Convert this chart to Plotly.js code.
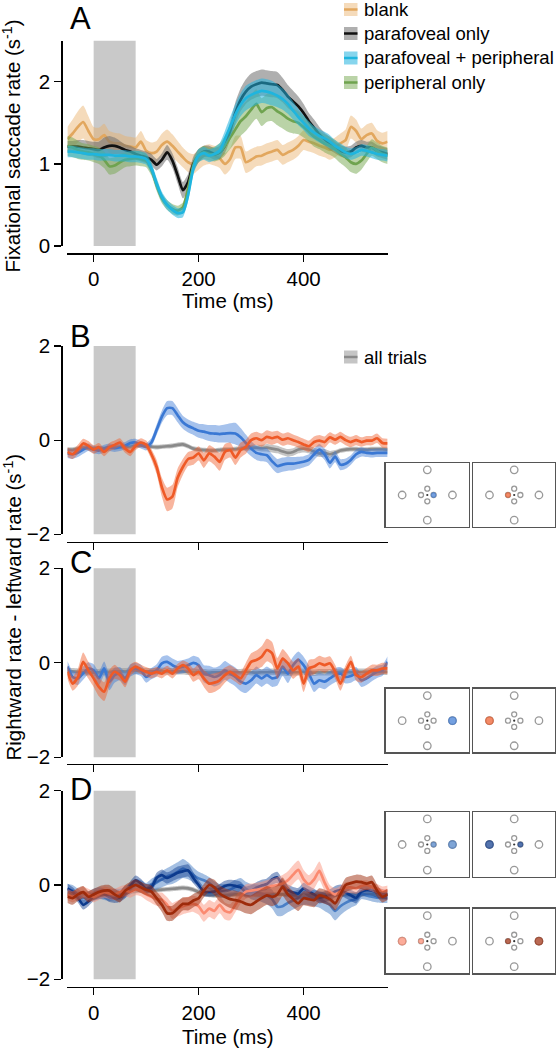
<!DOCTYPE html>
<html>
<head>
<meta charset="utf-8">
<script src="https://cdn.plot.ly/plotly-3.0.1.min.js"></script>
<style>html,body{margin:0;padding:0;background:#fff;}#chart{width:556px;height:1050px;}</style>
</head>
<body>
<div id="chart"></div>
<script>
// ---------------- DATA ----------------
const T = [-50,-40,-30,-20,-10,0,10,20,30,40,
           50,60,70,80,90,100,110,120,130,140,
           150,160,170,180,190,200,210,220,230,240,
           250,260,270,280,290,300,310,320,330,340,
           350,360,370,380,390,400,410,420,430,440,
           450,460,470,480,490,500,510,520,530,540,
           550,560];
const STIM_WINDOW = [0, 80];
const X_TICKS = [0, 200, 400];
const YA_TICKS = [0, 1, 2];
const YB_TICKS = [-2, 0, 2];

// Panel A
const blankMean = [1.30,1.37,1.45,1.51,1.40,1.30,1.30,1.35,1.27,1.25,
                   1.25,1.22,1.21,1.20,1.27,1.16,1.13,1.15,1.23,1.27,
                   1.22,1.15,1.08,1.02,1.00,1.05,1.10,1.12,1.10,1.07,
                   1.00,1.06,1.20,1.20,1.02,1.05,1.09,1.10,1.13,1.15,
                   1.17,1.11,1.14,1.17,1.22,1.29,1.27,1.25,1.22,1.20,
                   1.17,1.20,1.25,1.29,1.45,1.40,1.30,1.35,1.37,1.28,
                   1.25,1.27];
const blankErr = [.15,.17,.19,.20,.18,.15,.14,.14,.13,.13,
                  .12,.12,.12,.12,.13,.13,.13,.13,.14,.15,
                  .14,.13,.12,.12,.12,.12,.12,.12,.12,.12,
                  .13,.13,.14,.14,.13,.13,.12,.12,.12,.12,
                  .12,.12,.12,.12,.12,.12,.12,.12,.12,.12,
                  .12,.12,.12,.13,.14,.14,.13,.13,.13,.13,
                  .13,.13];
const paraMean = [1.21,1.21,1.21,1.20,1.19,1.18,1.17,1.20,1.22,1.22,
                  1.20,1.17,1.15,1.12,1.10,1.08,1.05,0.99,1.05,1.14,
                  1.04,0.86,0.68,0.78,1.00,1.10,1.15,1.15,1.12,1.14,
                  1.22,1.40,1.62,1.78,1.88,1.94,1.97,1.99,1.98,1.97,
                  1.96,1.90,1.82,1.76,1.70,1.62,1.52,1.44,1.36,1.30,
                  1.25,1.20,1.16,1.14,1.15,1.20,1.22,1.20,1.20,1.16,
                  1.14,1.12];
const paraErr = [.07,.07,.08,.09,.09,.09,.10,.12,.12,.10,
                 .08,.07,.07,.07,.07,.07,.07,.07,.08,.09,
                 .09,.10,.10,.10,.09,.08,.07,.07,.07,.08,
                 .09,.11,.13,.14,.15,.16,.16,.16,.16,.16,
                 .16,.15,.14,.13,.12,.11,.10,.10,.09,.08,
                 .08,.07,.07,.07,.07,.07,.07,.07,.07,.07,
                 .07,.07];
const bothMean = [1.15,1.15,1.14,1.13,1.12,1.12,1.11,1.11,1.11,1.10,
                  1.10,1.10,1.09,1.09,1.08,1.06,0.95,0.76,0.60,0.50,
                  0.44,0.40,0.41,0.62,0.95,1.10,1.13,1.10,1.12,1.16,
                  1.30,1.45,1.60,1.72,1.80,1.84,1.87,1.89,1.88,1.86,
                  1.83,1.79,1.73,1.65,1.57,1.50,1.43,1.38,1.34,1.31,
                  1.27,1.22,1.18,1.14,1.12,1.14,1.17,1.16,1.14,1.12,
                  1.11,1.10];
const bothErr = [.07,.07,.07,.07,.07,.07,.07,.07,.07,.07,
                 .07,.07,.07,.07,.07,.07,.07,.07,.06,.06,
                 .06,.06,.06,.07,.08,.08,.08,.08,.08,.09,
                 .10,.12,.13,.14,.15,.15,.15,.15,.15,.15,
                 .14,.13,.12,.11,.10,.09,.09,.08,.08,.08,
                 .08,.07,.07,.07,.07,.07,.07,.07,.07,.07,
                 .07,.07];
const periMean = [1.22,1.20,1.17,1.15,1.14,1.12,1.10,1.05,0.97,0.98,
                  1.02,1.05,1.06,1.07,1.06,1.04,0.93,0.74,0.58,0.50,
                  0.45,0.43,0.47,0.70,0.98,1.10,1.14,1.12,1.12,1.15,
                  1.22,1.32,1.42,1.52,1.58,1.66,1.73,1.63,1.68,1.69,
                  1.64,1.60,1.55,1.52,1.50,1.45,1.39,1.33,1.29,1.25,
                  1.22,1.18,1.12,1.08,1.02,1.00,1.04,1.12,1.20,1.16,
                  1.12,1.10];
const periErr = [.12,.12,.11,.10,.10,.10,.10,.10,.10,.10,
                 .10,.09,.09,.09,.09,.08,.07,.07,.06,.06,
                 .06,.06,.06,.07,.08,.08,.08,.08,.09,.10,
                 .12,.14,.16,.18,.18,.18,.18,.17,.17,.17,
                 .17,.17,.16,.15,.14,.13,.12,.12,.11,.11,
                 .11,.11,.11,.12,.12,.12,.11,.10,.10,.10,
                 .10,.10];

// Panel B
const bRightMean = [-0.28,-0.30,-0.27,-0.20,-0.15,-0.20,-0.22,-0.18,-0.15,-0.17,
                    -0.15,-0.12,-0.06,-0.05,-0.10,-0.14,-0.05,0.22,0.50,0.68,
                    0.68,0.53,0.38,0.30,0.25,0.20,0.18,0.15,0.14,0.13,
                    0.14,0.15,0.14,0.06,-0.06,-0.18,-0.27,-0.30,-0.32,-0.45,
                    -0.55,-0.52,-0.50,-0.50,-0.48,-0.46,-0.42,-0.30,-0.20,-0.30,
                    -0.48,-0.35,-0.52,-0.50,-0.42,-0.30,-0.25,-0.27,-0.28,-0.27,
                    -0.27,-0.27];
const bRightErr = [.10,.10,.09,.09,.08,.08,.08,.08,.08,.08,
                   .08,.08,.08,.08,.08,.08,.09,.11,.13,.15,
                   .15,.15,.14,.14,.14,.15,.16,.17,.18,.18,
                   .19,.21,.23,.20,.18,.16,.15,.15,.15,.15,
                   .15,.15,.15,.14,.13,.12,.12,.12,.12,.12,
                   .12,.12,.12,.11,.10,.10,.10,.09,.09,.09,
                   .09,.09];
const bLeftMean = [-0.25,-0.30,-0.20,-0.07,-0.12,-0.20,-0.15,-0.25,-0.15,-0.10,
                   -0.05,-0.18,-0.25,-0.12,-0.05,-0.10,-0.30,-0.57,-1.00,-1.26,
                   -1.20,-0.80,-0.57,-0.40,-0.37,-0.28,-0.43,-0.28,-0.35,-0.46,
                   -0.25,-0.21,-0.37,-0.21,-0.14,0.00,0.04,0.00,0.07,0.04,
                   0.07,0.01,0.04,0.00,-0.04,-0.09,-0.13,-0.04,-0.01,-0.04,
                   0.06,0.01,0.07,0.00,-0.04,0.00,-0.04,-0.01,-0.01,0.04,
                   -0.06,-0.07];
const bLeftErr = [.10,.10,.10,.10,.10,.09,.09,.09,.09,.09,
                  .09,.09,.09,.09,.09,.09,.11,.15,.20,.25,
                  .25,.20,.17,.15,.15,.15,.16,.17,.18,.19,
                  .17,.16,.16,.16,.15,.14,.14,.14,.14,.14,
                  .13,.13,.13,.12,.12,.12,.12,.12,.12,.12,
                  .11,.11,.11,.11,.11,.11,.10,.10,.10,.10,
                  .10,.10];
const bAllMean = [-0.20,-0.20,-0.18,-0.16,-0.17,-0.18,-0.17,-0.18,-0.16,-0.15,
                  -0.14,-0.15,-0.14,-0.12,-0.11,-0.12,-0.14,-0.15,-0.14,-0.13,
                  -0.12,-0.10,-0.09,-0.13,-0.18,-0.20,-0.21,-0.22,-0.22,-0.21,
                  -0.20,-0.20,-0.19,-0.18,-0.17,-0.16,-0.16,-0.17,-0.16,-0.18,
                  -0.20,-0.24,-0.27,-0.25,-0.20,-0.18,-0.20,-0.24,-0.28,-0.27,
                  -0.30,-0.27,-0.22,-0.20,-0.19,-0.19,-0.20,-0.20,-0.19,-0.19,
                  -0.19,-0.20];
const bAllErr = [.05,.05,.05,.05,.05,.05,.05,.05,.05,.05,
                 .05,.05,.05,.05,.05,.05,.05,.05,.05,.05,
                 .05,.05,.05,.05,.05,.05,.05,.05,.05,.05,
                 .05,.05,.05,.05,.05,.06,.06,.07,.08,.08,
                 .08,.08,.08,.08,.08,.08,.08,.08,.08,.08,
                 .07,.06,.05,.05,.05,.05,.05,.05,.05,.05,
                 .05,.05];

// Panel C
const cRightMean = [-0.08,-0.30,-0.33,-0.22,-0.12,-0.16,-0.33,-0.12,-0.40,-0.26,
                    -0.23,-0.33,-0.16,-0.12,-0.16,-0.30,-0.23,-0.16,-0.01,0.02,
                    -0.05,-0.10,-0.08,-0.05,0.00,-0.05,-0.23,-0.26,-0.30,-0.26,
                    -0.16,-0.23,-0.30,-0.40,-0.44,-0.37,-0.26,-0.33,-0.26,-0.33,
                    -0.30,-0.08,-0.23,-0.05,0.06,-0.05,-0.23,-0.44,-0.37,-0.40,
                    -0.33,-0.26,-0.23,-0.30,-0.28,-0.23,-0.37,-0.33,-0.26,-0.19,
                    -0.16,0.02];
const cRightErr = [.12,.13,.14,.14,.13,.13,.15,.15,.18,.16,
                   .14,.14,.13,.12,.12,.12,.12,.13,.14,.14,
                   .14,.14,.14,.14,.15,.16,.18,.20,.20,.20,
                   .20,.20,.20,.20,.20,.18,.18,.18,.18,.18,
                   .18,.20,.20,.18,.18,.18,.18,.18,.16,.16,
                   .15,.15,.14,.14,.14,.14,.14,.14,.13,.13,
                   .12,.12];
const cLeftMean = [-0.19,-0.44,-0.30,0.02,-0.16,-0.33,-0.51,-0.61,-0.33,-0.19,
                   -0.26,-0.40,-0.16,-0.08,-0.14,-0.19,-0.23,-0.19,-0.23,-0.16,
                   -0.23,-0.12,-0.05,-0.12,-0.26,-0.19,-0.33,-0.44,-0.42,-0.37,
                   -0.26,-0.19,-0.26,-0.33,-0.16,0.02,0.06,0.13,0.27,0.20,
                   -0.12,0.09,-0.01,-0.16,-0.08,-0.44,-0.12,-0.08,-0.01,-0.05,
                   -0.01,-0.19,-0.44,-0.19,0.02,-0.26,-0.30,-0.23,-0.16,-0.16,
                   -0.12,-0.12];
const cLeftErr = [.15,.15,.18,.20,.18,.18,.20,.20,.18,.15,
                  .12,.12,.12,.10,.10,.10,.10,.10,.10,.10,
                  .10,.10,.10,.12,.14,.16,.18,.20,.20,.18,
                  .16,.14,.14,.14,.16,.18,.20,.22,.24,.24,
                  .22,.20,.18,.18,.18,.18,.18,.16,.16,.16,
                  .15,.15,.15,.14,.13,.12,.12,.12,.12,.12,
                  .12,.12];
const cAllMean = [-0.18,-0.18,-0.19,-0.20,-0.20,-0.21,-0.20,-0.19,-0.19,-0.18,
                  -0.18,-0.18,-0.17,-0.17,-0.17,-0.18,-0.18,-0.18,-0.17,-0.18,
                  -0.18,-0.18,-0.18,-0.19,-0.19,-0.20,-0.20,-0.21,-0.20,-0.20,
                  -0.20,-0.21,-0.20,-0.20,-0.19,-0.20,-0.21,-0.20,-0.20,-0.19,
                  -0.20,-0.20,-0.21,-0.20,-0.20,-0.19,-0.20,-0.21,-0.20,-0.20,
                  -0.20,-0.20,-0.19,-0.19,-0.20,-0.19,-0.19,-0.19,-0.18,-0.19,
                  -0.19,-0.19];
const cAllErr = [.07,.07,.07,.07,.07,.07,.07,.07,.07,.07,
                 .07,.07,.07,.07,.07,.07,.07,.07,.07,.07,
                 .07,.07,.07,.07,.07,.07,.07,.07,.07,.07,
                 .07,.07,.07,.07,.07,.07,.07,.07,.07,.07,
                 .07,.07,.07,.07,.07,.07,.07,.07,.07,.07,
                 .07,.07,.07,.07,.07,.07,.07,.07,.07,.07,
                 .07,.07];

// Panel D
const dAllMean = [-0.20,-0.20,-0.19,-0.19,-0.20,-0.21,-0.20,-0.18,-0.17,-0.17,
                  -0.16,-0.15,-0.14,-0.13,-0.12,-0.12,-0.12,-0.11,-0.10,-0.09,
                  -0.08,-0.07,-0.06,-0.07,-0.10,-0.15,-0.19,-0.21,-0.22,-0.22,
                  -0.22,-0.21,-0.20,-0.20,-0.20,-0.20,-0.21,-0.21,-0.20,-0.20,
                  -0.20,-0.20,-0.21,-0.21,-0.22,-0.22,-0.22,-0.22,-0.21,-0.21,
                  -0.21,-0.21,-0.21,-0.20,-0.20,-0.20,-0.20,-0.20,-0.20,-0.20,
                  -0.20,-0.20];
const dAllErr = [.05,.05,.05,.05,.05,.05,.05,.05,.05,.05,
                 .05,.05,.05,.05,.05,.05,.05,.05,.05,.05,
                 .05,.05,.05,.05,.05,.05,.05,.05,.05,.05,
                 .05,.05,.05,.05,.05,.05,.05,.05,.05,.05,
                 .05,.05,.05,.05,.05,.05,.05,.05,.05,.05,
                 .05,.05,.05,.05,.05,.05,.05,.05,.05,.05,
                 .05,.05];
const dRightBothMean = [-0.10,-0.12,-0.20,-0.28,-0.25,-0.20,-0.17,-0.20,-0.22,-0.20,
                        -0.20,-0.15,-0.08,0.00,-0.02,-0.08,0.00,0.05,0.12,0.18,
                        0.22,0.28,0.35,0.30,0.21,0.14,0.10,0.04,-0.05,-0.12,
                        -0.13,-0.10,-0.04,0.00,-0.08,-0.14,-0.16,-0.18,-0.22,-0.30,
                        -0.46,-0.45,-0.38,-0.33,-0.28,-0.25,-0.26,-0.28,-0.30,-0.36,
                        -0.42,-0.55,-0.45,-0.38,-0.33,-0.30,-0.18,-0.22,-0.25,-0.27,
                        -0.28,-0.28];
const dRightBothErr = [.12,.12,.12,.12,.12,.12,.12,.12,.12,.12,
                       .12,.12,.12,.12,.12,.12,.13,.15,.17,.18,
                       .20,.20,.20,.18,.16,.14,.13,.13,.13,.14,
                       .15,.15,.15,.15,.15,.16,.17,.18,.19,.20,
                       .20,.20,.20,.19,.18,.17,.17,.17,.18,.19,
                       .20,.20,.19,.17,.15,.13,.12,.10,.10,.10,
                       .10,.10];
const dRightMixMean = [-0.07,-0.15,-0.27,-0.42,-0.35,-0.24,-0.20,-0.19,-0.26,-0.28,
                       -0.26,-0.18,-0.02,0.10,0.03,-0.08,-0.05,0.15,0.21,0.15,
                       0.20,0.26,0.29,0.31,0.15,0.00,-0.14,-0.15,-0.14,-0.08,
                       -0.02,0.00,-0.02,-0.05,-0.15,-0.12,-0.06,-0.01,0.02,0.12,
                       0.16,0.00,-0.11,-0.16,-0.18,-0.07,-0.14,-0.20,-0.27,-0.25,
                       -0.21,-0.14,-0.11,-0.16,-0.22,-0.27,-0.14,-0.11,-0.12,-0.16,
                       -0.19,-0.21];
const dRightMixErr = [.10,.10,.10,.10,.10,.10,.10,.10,.10,.10,
                      .10,.10,.10,.10,.10,.10,.10,.11,.12,.12,
                      .12,.13,.13,.13,.12,.10,.10,.10,.10,.10,
                      .11,.11,.12,.12,.12,.12,.12,.12,.12,.12,
                      .12,.12,.12,.12,.12,.12,.12,.12,.12,.12,
                      .12,.12,.12,.12,.12,.12,.11,.11,.11,.11,
                      .10,.10];
const dLeftBothMean = [-0.20,-0.25,-0.20,-0.15,-0.20,-0.25,-0.20,-0.15,-0.18,-0.20,
                       -0.15,-0.12,-0.15,-0.10,-0.12,-0.20,-0.25,-0.30,-0.31,-0.42,
                       -0.55,-0.50,-0.45,-0.42,-0.40,-0.45,-0.60,-0.50,-0.55,-0.42,
                       -0.55,-0.58,-0.42,-0.25,-0.14,-0.12,-0.10,-0.08,-0.05,-0.02,
                       0.00,0.03,0.10,0.22,0.32,0.12,0.02,0.12,0.30,0.05,
                       -0.15,-0.20,-0.14,-0.06,-0.05,-0.07,-0.02,0.00,-0.04,-0.08,
                       -0.13,-0.11];
const dLeftBothErr = [.12,.12,.12,.12,.12,.12,.12,.12,.12,.12,
                      .12,.12,.12,.12,.12,.12,.13,.14,.15,.16,
                      .17,.17,.17,.17,.17,.18,.18,.18,.18,.18,
                      .18,.17,.16,.15,.15,.15,.15,.15,.15,.16,
                      .17,.18,.19,.20,.20,.20,.19,.20,.20,.18,
                      .15,.13,.12,.12,.12,.12,.12,.10,.10,.10,
                      .10,.10];
const dLeftMixMean = [-0.25,-0.28,-0.20,-0.15,-0.25,-0.20,-0.15,-0.12,-0.12,-0.20,
                      -0.25,-0.12,-0.05,0.00,-0.05,-0.10,-0.14,-0.28,-0.42,-0.60,
                      -0.60,-0.50,-0.40,-0.40,-0.33,-0.28,-0.12,0.00,-0.05,-0.18,
                      -0.25,-0.30,-0.32,-0.35,-0.40,-0.42,-0.35,-0.28,-0.22,-0.25,
                      -0.20,-0.04,-0.20,-0.30,-0.39,-0.28,-0.30,-0.32,-0.22,-0.25,
                      -0.30,-0.39,-0.20,0.00,0.04,0.07,0.06,0.03,0.06,-0.12,
                      -0.25,-0.20];
const dLeftMixErr = [.13,.14,.14,.13,.12,.12,.12,.12,.12,.12,
                     .12,.12,.12,.12,.12,.12,.13,.14,.15,.16,
                     .16,.15,.14,.14,.14,.14,.14,.15,.16,.17,
                     .18,.19,.20,.20,.20,.20,.20,.20,.20,.20,
                     .20,.20,.18,.17,.16,.15,.15,.15,.15,.15,
                     .15,.15,.15,.15,.15,.15,.15,.14,.14,.13,
                     .12,.12];

// Legend labels
const LEGEND_A = ['blank', 'parafoveal only', 'parafoveal + peripheral', 'peripheral only'];
const LEGEND_B = ['all trials'];
const PANEL_LETTERS = ['A', 'B', 'C', 'D'];

// Stimulus icon layout (placeholder ring positions, in icon units)
const ICON_X = [1, -1, 0, 0, 0.25, -0.25, 0, 0];
const ICON_Y = [0, 0, 1, -1, 0, 0, 0.25, -0.25];
const ICON_OUTER = [1, 1, 1, 1, 0, 0, 0, 0];

// ---------------- STYLE ----------------
const FONT = 'Liberation Sans, Arial, Helvetica, sans-serif';
const C = {
  blank: ['#e2a75e', 'rgba(232,176,105,0.45)'],
  para:  ['#111111', 'rgba(110,110,110,0.55)'],
  both:  ['#1fb5de', 'rgba(35,178,222,0.55)'],
  peri:  ['#6fa34f', 'rgba(118,168,80,0.5)'],
  right: ['#3a78d4', 'rgba(58,120,212,0.45)'],
  left:  ['#ef5a27', 'rgba(239,90,39,0.45)'],
  all:   ['#8a8a8a', 'rgba(150,150,150,0.55)'],
  rBoth: ['#4a7fc6', 'rgba(74,127,198,0.5)'],
  rMix:  ['#0c3a8d', 'rgba(12,58,141,0.45)'],
  lBoth: ['#fb8a70', 'rgba(251,138,112,0.45)'],
  lMix:  ['#9d2b0b', 'rgba(157,43,11,0.5)']
};
const W = 556, H = 1050;
const px = x => x / W;
const py = y => 1 - y / H;

const traces = [];
const SHAPE = {shape: 'spline', smoothing: 0.6};
function addSeries(xa, ya, mean, err, col, lw) {
  const up = mean.map((m, i) => m + err[i]);
  const lo = mean.map((m, i) => m - err[i]);
  traces.push({x: T, y: up, xaxis: xa, yaxis: ya, mode: 'lines',
    line: Object.assign({width: 0, color: col[1]}, SHAPE), hoverinfo: 'skip', showlegend: false});
  traces.push({x: T, y: lo, xaxis: xa, yaxis: ya, mode: 'lines', fill: 'tonexty', fillcolor: col[1],
    line: Object.assign({width: 0, color: col[1]}, SHAPE), hoverinfo: 'skip', showlegend: false});
  traces.push({x: T, y: mean, xaxis: xa, yaxis: ya, mode: 'lines',
    line: Object.assign({width: lw || 2.7, color: col[0]}, SHAPE), showlegend: false});
}

// Panel A
addSeries('x', 'y', blankMean, blankErr, C.blank);
addSeries('x', 'y', paraMean, paraErr, C.para);
addSeries('x', 'y', periMean, periErr, C.peri);
addSeries('x', 'y', bothMean, bothErr, C.both);
// Panel B
addSeries('x2', 'y2', bAllMean, bAllErr, C.all);
addSeries('x2', 'y2', bRightMean, bRightErr, C.right);
addSeries('x2', 'y2', bLeftMean, bLeftErr, C.left);
// Panel C
addSeries('x3', 'y3', cAllMean, cAllErr, C.all);
addSeries('x3', 'y3', cRightMean, cRightErr, C.right);
addSeries('x3', 'y3', cLeftMean, cLeftErr, C.left);
// Panel D
addSeries('x4', 'y4', dAllMean, dAllErr, C.all);
addSeries('x4', 'y4', dRightBothMean, dRightBothErr, C.rBoth);
addSeries('x4', 'y4', dRightMixMean, dRightMixErr, C.rMix);
addSeries('x4', 'y4', dLeftBothMean, dLeftBothErr, C.lBoth);
addSeries('x4', 'y4', dLeftMixMean, dLeftMixErr, C.lMix);

// ---------------- Layout ----------------
const XDOM = [px(67.4), px(387.6)];
const YPOS = px(61.3);
const panels = [
  {dom: [py(246), py(40.7)], range: [0, 2.5], ticks: YA_TICKS, xline: py(253.3), labels: true},
  {dom: [py(534.3), py(346)], range: [-2, 2], ticks: YB_TICKS, xline: py(541.7), labels: false},
  {dom: [py(757.3), py(568.3)], range: [-2, 2], ticks: YB_TICKS, xline: py(764), labels: false},
  {dom: [py(979.3), py(790.7)], range: [-2, 2], ticks: YB_TICKS, xline: py(986.7), labels: true}
];
const layout = {
  width: W, height: H, margin: {l: 0, r: 0, t: 0, b: 0, pad: 0},
  paper_bgcolor: '#fff', plot_bgcolor: 'rgba(0,0,0,0)',
  showlegend: false, font: {family: FONT, color: '#000'},
  shapes: [], annotations: []
};
const axisCommon = {
  showgrid: false, zeroline: false, showline: true, linecolor: '#000', linewidth: 1.3,
  ticks: 'outside', ticklen: 7, tickwidth: 1.3, tickcolor: '#000',
  tickfont: {family: FONT, size: 20.5, color: '#000'}, fixedrange: true
};
panels.forEach((p, i) => {
  const n = i === 0 ? '' : String(i + 1);
  layout['xaxis' + n] = Object.assign({}, axisCommon, {
    domain: XDOM, range: [-50, 560], anchor: 'free', position: p.xline,
    tickmode: 'array', tickvals: X_TICKS, showticklabels: p.labels
  });
  layout['yaxis' + n] = Object.assign({}, axisCommon, {
    domain: p.dom, range: p.range, anchor: 'free', position: YPOS,
    tickmode: 'array', tickvals: p.ticks
  });
  layout.shapes.push({type: 'rect', xref: 'x' + n, yref: 'y' + n + ' domain',
    x0: STIM_WINDOW[0], x1: STIM_WINDOW[1], y0: 0, y1: 1,
    fillcolor: '#c9c9c9', line: {width: 0}, layer: 'below'});
});

// Panel letters
[19, 336, 562, 789].forEach((v, i) => {
  layout.annotations.push({text: PANEL_LETTERS[i], xref: 'paper', yref: 'paper',
    x: px(68), y: py(v), xanchor: 'left', yanchor: 'middle', showarrow: false,
    font: {family: FONT, size: 31, color: '#000'}});
});
// Axis titles
layout.annotations.push({text: 'Fixational saccade rate (s<sup>-1</sup>)', textangle: -90,
  xref: 'paper', yref: 'paper', x: px(12), y: py(146.5), xanchor: 'center', yanchor: 'middle',
  showarrow: false, font: {family: FONT, size: 20.5, color: '#000'}});
layout.annotations.push({text: 'Rightward rate - leftward rate (s<sup>-1</sup>)', textangle: -90,
  xref: 'paper', yref: 'paper', x: px(12), y: py(607.5), xanchor: 'center', yanchor: 'middle',
  showarrow: false, font: {family: FONT, size: 20.5, color: '#000'}});
[301, 1036].forEach(yv => {
  layout.annotations.push({text: 'Time (ms)', xref: 'paper', yref: 'paper',
    x: px(227.5), y: py(yv), xanchor: 'center', yanchor: 'middle', showarrow: false,
    font: {family: FONT, size: 20.5, color: '#000'}});
});

// Legends
function legendItem(label, col, yc) {
  layout.shapes.push({type: 'rect', xref: 'paper', yref: 'paper',
    x0: px(344), x1: px(357.5), y0: py(yc + 6.5), y1: py(yc - 6.5),
    fillcolor: col[1], line: {width: 0}});
  layout.shapes.push({type: 'line', xref: 'paper', yref: 'paper',
    x0: px(344), x1: px(357.5), y0: py(yc), y1: py(yc),
    line: {color: col[0], width: 2.5}});
  layout.annotations.push({text: label, xref: 'paper', yref: 'paper',
    x: px(361.5), y: py(yc), xanchor: 'left', yanchor: 'middle', showarrow: false,
    font: {family: FONT, size: 18.5, color: '#000'}});
}
const legendColsA = [C.blank, C.para, C.both, C.peri];
[9.5, 33.5, 58, 82.5].forEach((yc, i) => legendItem(LEGEND_A[i], legendColsA[i], yc));
legendItem(LEGEND_B[0], C.all, 357);

// Stimulus icons
const ICON_COLS = [[385.8, 468.8], [473.4, 555.0]];
const icons = [
  {col: 0, rows: [463.3, 526.7], fill: [{x: [0.25], y: [0], outer: [0]}], color: C.right[0]},
  {col: 1, rows: [463.3, 526.7], fill: [{x: [-0.25], y: [0], outer: [0]}], color: C.left[0]},
  {col: 0, rows: [689, 752.3], fill: [{x: [1], y: [0], outer: [1]}], color: C.right[0]},
  {col: 1, rows: [689, 752.3], fill: [{x: [-1], y: [0], outer: [1]}], color: C.left[0]},
  {col: 0, rows: [812.3, 876.7], fill: [{x: [0.25, 1], y: [0, 0], outer: [0, 1]}], color: C.rBoth[0]},
  {col: 1, rows: [812.3, 876.7], fill: [{x: [-1, 0.25], y: [0, 0], outer: [1, 0]}], color: C.rMix[0]},
  {col: 0, rows: [909, 973.3], fill: [{x: [-1, -0.25], y: [0, 0], outer: [1, 0]}], color: C.lBoth[0]},
  {col: 1, rows: [909, 973.3], fill: [{x: [-0.25, 1], y: [0, 0], outer: [0, 1]}], color: C.lMix[0]}
];
const ringSize = o => (o ? 7.5 : 5);
const dotSize = o => (o ? 8 : 5);
icons.forEach((ic, k) => {
  const n = String(k + 5);
  const xs = ICON_COLS[ic.col];
  layout['xaxis' + n] = {domain: [px(xs[0]), px(xs[1])], range: [-1.65, 1.65], anchor: 'y' + n,
    showgrid: false, zeroline: false, showticklabels: false, ticks: '', showline: true, mirror: true,
    linecolor: '#555', linewidth: 1.6, fixedrange: true};
  layout['yaxis' + n] = {domain: [py(ic.rows[1]), py(ic.rows[0])], range: [-1.26, 1.26], anchor: 'x' + n,
    showgrid: false, zeroline: false, showticklabels: false, ticks: '', showline: true, mirror: true,
    linecolor: '#555', linewidth: 1.6, fixedrange: true};
  traces.push({x: ICON_X, y: ICON_Y, xaxis: 'x' + n, yaxis: 'y' + n, mode: 'markers', showlegend: false,
    hoverinfo: 'skip', cliponaxis: false,
    marker: {size: ICON_OUTER.map(ringSize), color: 'rgba(0,0,0,0)', line: {color: '#6e6e6e', width: 1.3}}});
  traces.push({x: [0], y: [0], xaxis: 'x' + n, yaxis: 'y' + n, mode: 'markers', showlegend: false,
    hoverinfo: 'skip', marker: {size: 2.2, color: '#333'}});
  ic.fill.forEach(f => {
    traces.push({x: f.x, y: f.y, xaxis: 'x' + n, yaxis: 'y' + n, mode: 'markers', showlegend: false,
      hoverinfo: 'skip', cliponaxis: false,
      marker: {size: f.outer.map(dotSize), color: ic.color, line: {color: ic.color, width: 0.8}}});
  });
});

Plotly.newPlot('chart', traces, layout, {displayModeBar: false, staticPlot: true});
</script>
</body>
</html>
